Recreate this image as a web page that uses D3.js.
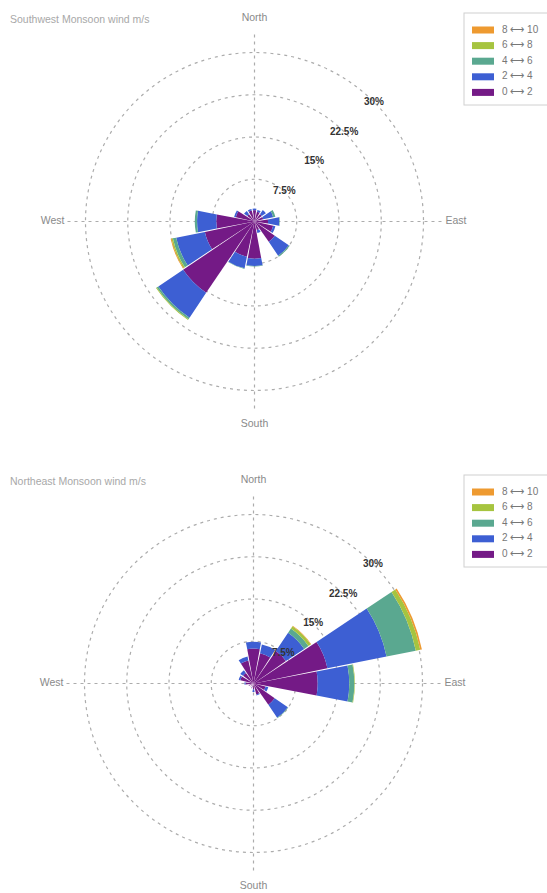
<!DOCTYPE html>
<html>
<head>
<meta charset="utf-8">
<script src="https://cdn.jsdelivr.net/npm/d3@7"></script>
<style>
  body { margin: 0; background: #fff; }
  svg { display: block; font-family: "Liberation Sans", Arial, sans-serif; }
</style>
</head>
<body>
<svg id="chart" width="547" height="893"></svg>
<script>
// Compass sectors (16 points, clockwise from north)
const directions = ["N","NNE","NE","ENE","E","ESE","SE","SSE","S","SSW","SW","WSW","W","WNW","NW","NNW"];
// Wind speed bins (m/s) and their colours
const speedBins = ["0 \u27F7 2", "2 \u27F7 4", "4 \u27F7 6", "6 \u27F7 8", "8 \u27F7 10"];
const binColors = ["#741a86", "#3d5fd3", "#5aa890", "#a6c43f", "#ee9a30"];
const radialTicks = [7.5, 15, 22.5, 30];
const radialMax = 30;

// Southwest monsoon: frequency (%) per direction, one array per speed bin
const sw0to2  = [2.0, 1.8, 1.6, 1.6, 2.4, 3.4, 4.4, 1.6, 6.6, 6.4, 15.3, 9.0, 6.8, 3.4, 1.6, 2.0];
const sw2to4  = [0.3, 0.3, 0.9, 1.8, 2.0, 0.4, 3.0, 0.5, 1.3, 2.1,  5.3, 5.2, 3.4, 0.3, 0.7, 0.3];
const sw4to6  = [0,   0,   0,   0.4, 0.1, 0,   0.2, 0,   0.1, 0.1, 0.35, 0.6, 0.4, 0,   0,   0  ];
const sw6to8  = [0,   0,   0,   0,   0,   0,   0,   0,   0,   0,   0.15, 0.25, 0,  0,   0,   0  ];
const sw8to10 = [0,   0,   0,   0,   0,   0,   0,   0,   0,   0,   0,    0.15, 0,  0,   0,   0  ];

// Northeast monsoon: frequency (%) per direction, one array per speed bin
const ne0to2  = [6.2, 5.5, 7.0, 13.4, 11.4, 2.2, 4.6, 2.0, 1.0, 0.8, 0.7, 0.9, 1.4, 2.4, 2.3, 4.2];
const ne2to4  = [1.2, 1.6, 3.9, 10.7,  5.6, 0.5, 2.8, 0.2, 0.5, 0.1, 0,   0,   0.2, 0.3, 0.6, 0.7];
const ne4to6  = [0,   0,   0.9,  5.3,  0.9, 0,   0.1, 0,   0,   0,   0,   0,   0,   0,   0,   0  ];
const ne6to8  = [0,   0,   0.5,  0.8,  0.1, 0,   0,   0,   0,   0,   0,   0,   0,   0,   0,   0  ];
const ne8to10 = [0,   0,   0.1,  0.3,  0,   0,   0,   0,   0,   0,   0,   0,   0,   0,   0,   0  ];

const roses = [
  { title: "Southwest Monsoon wind m/s", cx: 254.5, cy: 221.5,
    series: [sw0to2, sw2to4, sw4to6, sw6to8, sw8to10] },
  { title: "Northeast Monsoon wind m/s", cx: 253.5, cy: 683.5,
    series: [ne0to2, ne2to4, ne4to6, ne6to8, ne8to10] }
];

const svg = d3.select("#chart");

const r = d3.scaleLinear().domain([0, radialMax]).range([0, 169]);
const angle = d3.scaleBand()
  .domain(directions)
  .range([-Math.PI / 16, 2 * Math.PI - Math.PI / 16]);

const arc = d3.arc()
  .innerRadius(d => r(d[0]))
  .outerRadius(d => r(d[1]))
  .startAngle(d => angle(d.data.dir))
  .endAngle(d => angle(d.data.dir) + angle.bandwidth())
  .padAngle(0.012)
  .padRadius(95);

const gridStyle = sel => sel
  .attr("fill", "none")
  .attr("stroke", "#acacac")
  .attr("stroke-width", 1.2)
  .attr("stroke-dasharray", "3,4");

function drawRose(rose) {
  const g = svg.append("g").attr("transform", `translate(${rose.cx},${rose.cy})`);

  // dotted rings
  g.selectAll("circle.ring")
    .data(radialTicks)
    .join("circle")
    .attr("class", "ring")
    .attr("r", d => r(d))
    .call(gridStyle);

  // compass cross-hairs
  const ext = 187;
  [[0, -ext, 0, ext], [-ext, 0, ext, 0]].forEach(([x1, y1, x2, y2]) => {
    g.append("line")
      .attr("x1", x1).attr("y1", y1).attr("x2", x2).attr("y2", y2)
      .call(gridStyle);
  });

  // stacked wedges
  const rows = directions.map((dir, i) => {
    const row = { dir };
    speedBins.forEach((b, k) => { row[b] = rose.series[k][i]; });
    return row;
  });
  const stacked = d3.stack().keys(speedBins)(rows);

  g.selectAll("g.layer")
    .data(stacked)
    .join("g")
    .attr("class", "layer")
    .attr("fill", (d, i) => binColors[i])
    .selectAll("path")
    .data(d => d.filter(s => s[1] - s[0] > 0))
    .join("path")
    .attr("d", arc);

  // compass labels
  const lab = { fill: "#8a8a8a", size: "10.5px" };
  g.append("text").text("North").attr("x", 0).attr("y", -203)
    .attr("text-anchor", "middle").attr("dominant-baseline", "middle")
    .attr("fill", lab.fill).attr("font-size", lab.size);
  g.append("text").text("South").attr("x", 0).attr("y", 202.5)
    .attr("text-anchor", "middle").attr("dominant-baseline", "middle")
    .attr("fill", lab.fill).attr("font-size", lab.size);
  g.append("text").text("West").attr("x", -190).attr("y", 0)
    .attr("text-anchor", "end").attr("dominant-baseline", "middle")
    .attr("fill", lab.fill).attr("font-size", lab.size);
  g.append("text").text("East").attr("x", 191).attr("y", 0)
    .attr("text-anchor", "start").attr("dominant-baseline", "middle")
    .attr("fill", lab.fill).attr("font-size", lab.size);

  // ring value labels along the NE diagonal
  g.selectAll("text.tick")
    .data(radialTicks)
    .join("text")
    .attr("class", "tick")
    .attr("x", d => r(d) * Math.SQRT1_2)
    .attr("y", d => -r(d) * Math.SQRT1_2)
    .attr("text-anchor", "middle")
    .attr("dominant-baseline", "middle")
    .attr("fill", "#333")
    .attr("font-size", "10px")
    .attr("font-weight", "bold")
    .text(d => d + "%");

  // title
  svg.append("text")
    .attr("x", 10).attr("y", rose.cy - 201.5)
    .attr("dominant-baseline", "middle")
    .attr("fill", "#a8a8a8")
    .attr("font-size", "10.5px")
    .text(rose.title);

  // legend (highest bin on top)
  const lg = svg.append("g").attr("transform", `translate(464,${rose.cy - 208.5})`);
  lg.append("rect")
    .attr("x", 0).attr("y", 0).attr("width", 100).attr("height", 92)
    .attr("fill", "#fff").attr("stroke", "#d0d0d0");
  const order = speedBins.map((b, i) => ({ b, c: binColors[i] })).reverse();
  const item = lg.selectAll("g.item")
    .data(order)
    .join("g")
    .attr("class", "item")
    .attr("transform", (d, i) => `translate(0,${17 + i * 15.6})`);
  item.append("rect")
    .attr("x", 8).attr("y", -3.5).attr("width", 22).attr("height", 7)
    .attr("fill", d => d.c);
  item.append("text")
    .attr("x", 38).attr("y", 0)
    .attr("dominant-baseline", "middle")
    .attr("fill", "#777")
    .attr("font-size", "10px")
    .text(d => d.b);
}

roses.forEach(drawRose);
</script>
</body>
</html>
